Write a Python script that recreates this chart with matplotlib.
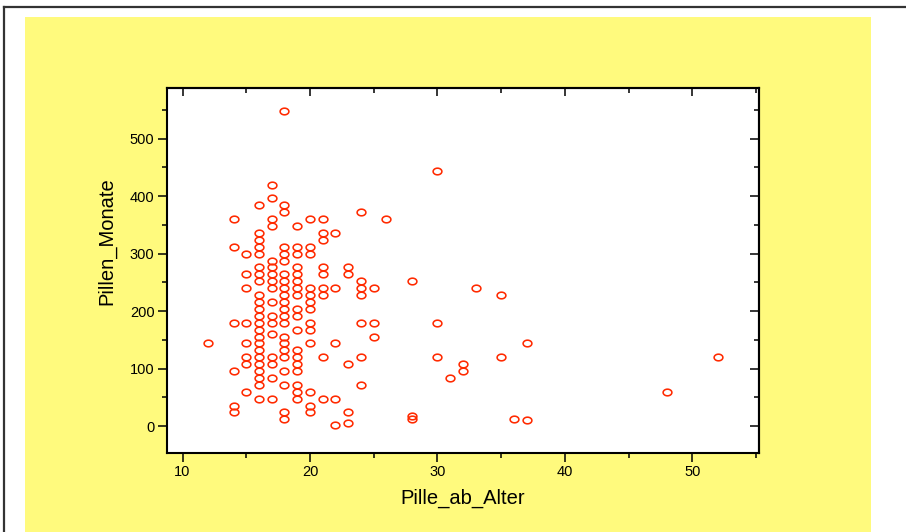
import matplotlib
matplotlib.use('Agg')
import matplotlib.pyplot as plt
from matplotlib.path import Path
from matplotlib.patches import Rectangle
from matplotlib.lines import Line2D
from matplotlib.ticker import MultipleLocator
import numpy as np

# ---- data (age at first pill, months of pill use) ----
ages = (
    [12]
    + [14] * 6
    + [15] * 8
    + [16] * 23
    + [17] * 17
    + [18] * 22
    + [19] * 18
    + [20] * 13
    + [21] * 9
    + [22] * 5
    + [23] * 5
    + [24] * 7
    + [25] * 3
    + [26]
    + [28] * 3
    + [30] * 3
    + [31]
    + [32] * 2
    + [33]
    + [35] * 2
    + [36]
    + [37] * 2
    + [48]
    + [52]
)
months = (
    [144]
    + [360, 312, 180, 96, 36, 24]
    + [300, 264, 240, 180, 144, 120, 108, 60]
    + [384, 336, 324, 312, 300, 276, 264, 252, 228, 216, 204, 192, 180, 168,
       156, 144, 132, 120, 108, 96, 84, 72, 48]
    + [420, 396, 360, 348, 288, 276, 264, 252, 240, 216, 192, 180, 160, 120,
       108, 84, 48]
    + [548, 384, 372, 312, 300, 288, 264, 252, 240, 228, 216, 204, 192, 180,
       156, 144, 132, 120, 96, 72, 24, 12]
    + [348, 312, 300, 276, 264, 252, 240, 228, 204, 192, 168, 132, 120, 108,
       96, 72, 60, 48]
    + [360, 312, 300, 240, 228, 216, 204, 180, 168, 144, 60, 36, 24]
    + [360, 336, 324, 276, 264, 240, 228, 120, 48]
    + [336, 240, 144, 48, 3]
    + [276, 264, 108, 24, 6]
    + [372, 252, 240, 228, 180, 120, 72]
    + [240, 180, 156]
    + [360]
    + [252, 18, 12]
    + [444, 180, 120]
    + [84]
    + [108, 96]
    + [240]
    + [228, 120]
    + [12]
    + [144, 10]
    + [60]
    + [120]
)
x_ticks = [10, 20, 30, 40, 50]
y_ticks = [0, 100, 200, 300, 400, 500]
x_label = "Pille_ab_Alter"
y_label = "Pillen_Monate"

plt.rcParams['font.family'] = ['Liberation Sans', 'DejaVu Sans']

W, H = 906, 532
fig = plt.figure(figsize=(W / 100, H / 100), dpi=100)
fig.patch.set_facecolor('white')

# yellow chart panel
fig.add_artist(Rectangle((25 / W, 0), (871 - 25) / W, 1 - 17 / H,
                         transform=fig.transFigure, facecolor='#fffa7d',
                         edgecolor='none', zorder=0))
# outer frame lines (top and left)
fig.add_artist(Line2D([4 / W, 1], [1 - 7 / H, 1 - 7 / H], transform=fig.transFigure,
                      color='#333333', lw=1.6, zorder=1))
fig.add_artist(Line2D([4 / W, 4 / W], [0, 1 - 7 / H], transform=fig.transFigure,
                      color='#333333', lw=1.6, zorder=1))

ax = fig.add_axes([167 / W, 1 - 453 / H, (759 - 167) / W, (453 - 88) / H])
ax.set_facecolor('white')

t = np.linspace(0, 2 * np.pi, 49)
ellipse = Path(np.column_stack([np.cos(t), 0.76 * np.sin(t)]), closed=True)
ax.plot(ages, months, linestyle='none', marker=ellipse, markersize=6.3,
        markerfacecolor='none', markeredgecolor='#ff2a00', markeredgewidth=1.15,
        clip_on=False)

ax.set_xlim(8.78, 55.24)
ax.set_ylim(-46.5, 588)
ax.set_xticks(x_ticks)
ax.set_yticks(y_ticks)
ax.xaxis.set_minor_locator(MultipleLocator(5))
ax.yaxis.set_minor_locator(MultipleLocator(50))

for s in ax.spines.values():
    s.set_linewidth(1.5)
    s.set_color('black')

ax.tick_params(which='major', direction='out', length=6.5, width=1.1,
               labelsize=10.5, pad=2.5, colors='black')
ax.tick_params(which='minor', direction='out', length=3.5, width=1.1)

secx = ax.secondary_xaxis('top')
secx.set_xticks(x_ticks)
secx.xaxis.set_minor_locator(MultipleLocator(5))
secx.tick_params(which='major', direction='in', length=6, width=1.1, labeltop=False)
secx.tick_params(which='minor', direction='in', length=3.5, width=1.1)
secx.spines['top'].set_linewidth(1.5)

secy = ax.secondary_yaxis('right')
secy.set_yticks(y_ticks)
secy.yaxis.set_minor_locator(MultipleLocator(50))
secy.tick_params(which='major', direction='in', length=6.5, width=1.1, labelright=False)
secy.tick_params(which='minor', direction='in', length=3.5, width=1.1)
secy.spines['right'].set_linewidth(1.5)

ax.set_xlabel(x_label, fontsize=14.5)
ax.set_ylabel(y_label, fontsize=14.5)
ax.xaxis.set_label_coords(0.5, -0.123)
ax.yaxis.set_label_coords(-0.101, 0.58)
ax.xaxis.label.set_va('center')
ax.yaxis.label.set_va('center')

fig.savefig('out.png', dpi=100, facecolor='white')
